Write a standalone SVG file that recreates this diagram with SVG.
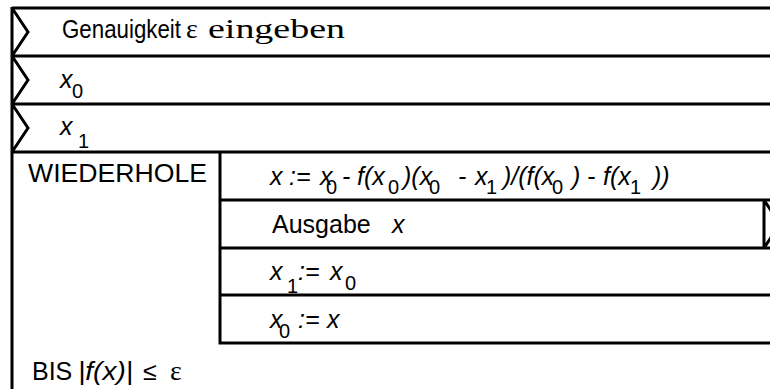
<svg xmlns="http://www.w3.org/2000/svg" width="770" height="389" viewBox="0 0 770 389">
<style>
.ln{fill:none;stroke:#000;stroke-width:3;stroke-linejoin:miter}
.a{font-family:"Liberation Sans",Arial,sans-serif;font-size:25px;fill:#000}
.i{font-style:italic}
.sb{font-family:"Liberation Sans",Arial,sans-serif;font-size:20px;fill:#000}
.tr{font-family:"Liberation Serif","Times New Roman",serif;font-size:28px;fill:#000}
</style>
<rect width="770" height="389" fill="#fff"/>
<g id="frame">
<path class="ln" d="M12 8H770M12 7V389"/>
</g>
<g id="input-epsilon">
<path class="ln" d="M12 56H770M12 8L28 32L12 56"/>
<text class="a" x="62" y="38" textLength="119" lengthAdjust="spacingAndGlyphs">Genauigkeit</text>
<text class="tr" x="186" y="38">ε</text>
<text class="tr" x="208" y="38" font-size="30" textLength="137" lengthAdjust="spacingAndGlyphs">eingeben</text>
</g>
<g id="input-x0">
<path class="ln" d="M12 104H770M12 56L28 80L12 104"/>
<text class="a i" x="60" y="88">x</text>
<text class="sb" x="72" y="98">0</text>
</g>
<g id="input-x1">
<path class="ln" d="M12 152H770M12 104L28 128L12 152"/>
<text class="a i" x="60" y="135">x</text>
<text class="sb" x="78" y="148">1</text>
</g>
<g id="loop">
<path class="ln" d="M220 152V343H770"/>
<text class="a" x="28" y="182" textLength="179" lengthAdjust="spacingAndGlyphs">WIEDERHOLE</text>
<text class="a" x="32" y="380">BIS</text>
<text class="a i" x="78" y="380" textLength="55" lengthAdjust="spacingAndGlyphs">|f(x)|</text>
<text class="a" x="143" y="380" font-size="28">≤</text>
<text class="tr" x="170" y="380">ε</text>
</g>
<g id="assign-x">
<path class="ln" d="M220 200H770"/>
<text class="a i" y="185"><tspan x="270">x</tspan><tspan x="289">:=</tspan><tspan x="320">x</tspan><tspan x="342">-</tspan><tspan x="357">f(x</tspan><tspan x="403">)(x</tspan><tspan x="458">-</tspan><tspan x="475">x</tspan><tspan x="503">)/(f(x</tspan><tspan x="572">)</tspan><tspan x="587">-</tspan><tspan x="603">f(x</tspan><tspan x="653">))</tspan></text>
<text class="sb" y="194"><tspan x="326">0</tspan><tspan x="388">0</tspan><tspan x="429">0</tspan><tspan x="486">1</tspan><tspan x="552">0</tspan><tspan x="630">1</tspan></text>
</g>
<g id="output-x">
<path class="ln" d="M220 248H770M764 200V248M764 200L780 224L764 248"/>
<text class="a" x="272" y="233">Ausgabe</text>
<text class="a i" x="392" y="233">x</text>
</g>
<g id="assign-x1">
<path class="ln" d="M220 295H770"/>
<text class="a i" x="270" y="280">x</text>
<text class="sb" x="287" y="293">1</text>
<text class="a i" x="298" y="280">:=</text>
<text class="a i" x="330" y="280">x</text>
<text class="sb" x="345" y="290">0</text>
</g>
<g id="assign-x0">
<text class="a i" x="270" y="328">x</text>
<text class="sb" x="279" y="338">0</text>
<text class="a i" x="298" y="328">:=</text>
<text class="a i" x="327" y="328">x</text>
</g>
<g id="connectors"/>
</svg>
